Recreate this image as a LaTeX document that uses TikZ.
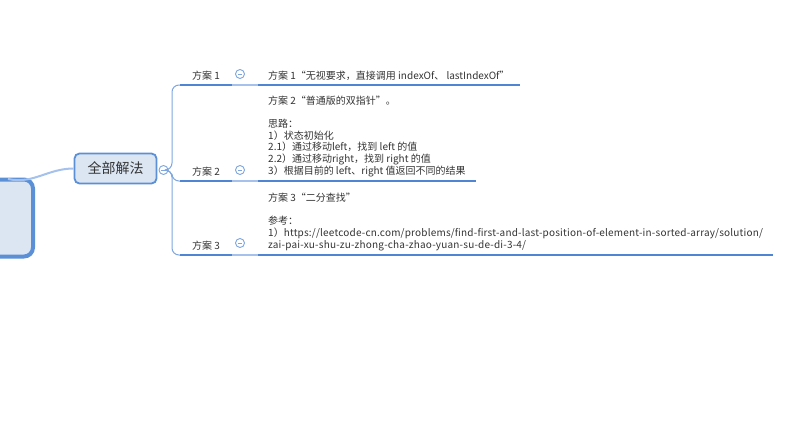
\documentclass[tikz,border=0pt]{standalone}
\usepackage{fontspec}
\setmainfont{Noto Sans CJK SC}
\newfontfamily\urlfont{Noto Sans CJK SC}[LetterSpace=1.9]
\definecolor{lineblue}{HTML}{4F86D4}
\definecolor{boxblue}{HTML}{5B8FD6}
\definecolor{boxfill}{HTML}{DCE6F3}
\definecolor{linkblue}{HTML}{7EA6E0}
\definecolor{rootlink}{HTML}{A4C2EC}
\definecolor{txt}{HTML}{333333}
\tikzset{
  lbl/.style={anchor=south,minimum width=52pt,inner xsep=0pt,inner ysep=4pt,font=\fontsize{10}{11.7}\selectfont,text=txt},
  detail/.style={anchor=south west,inner xsep=10pt,inner ysep=4pt,align=left,font=\fontsize{10}{11.7}\selectfont,text=txt},
  uline/.style={draw=lineblue,line width=2.8pt},
  branch/.style={draw=linkblue,line width=1pt,rounded corners=7pt},
  minus/.style={circle,draw=linkblue,fill=white,line width=0.9pt,minimum size=9pt,inner sep=0pt,
    path picture={\draw[linkblue,line width=0.9pt] ([xshift=-2.3pt]path picture bounding box.center) -- ([xshift=2.3pt]path picture bounding box.center);}}
}
\begin{document}
\begin{tikzpicture}[x=1pt,y=-1pt]
                \useasboundingbox (0,0) rectangle (794,447);
                \node[draw=boxblue,fill=boxfill,line width=4pt,rounded corners=9pt,minimum width=120pt,minimum height=77pt] (R) at (-27,218) {};
                \node[draw=boxblue,fill=boxfill,line width=1.8pt,rounded corners=5pt,minimum width=82pt,minimum height=30pt,text=txt,font=\fontsize{14}{16}\selectfont] (M) at (115.5,168.5) {全部解法};
                \draw[rootlink,line width=2pt] (8,179) to[out=-12,in=180] (M.west);
                \node[minus] (C0) at (163.5,170) {};
                \node[lbl] (S1) at (206,85) {方案 1};
                \node[lbl] (S2) at (206,181) {方案 2};
                \node[lbl] (S3) at (206,255) {方案 3};
                \node[detail] (D1) at (258,85) {方案 1“无视要求，直接调用 indexOf、 lastIndexOf”};
                \node[detail] (D2) at (258,181) {方案 2“普通版的双指针”。\\[11.7pt]
                  思路：\\
                  1）状态初始化\\
                  2.1）通过移动left，找到 left 的值\\
                  2.2）通过移动right，找到 right 的值\\
                  3）根据目前的 left、right 值返回不同的结果};
                \node[detail] (D3) at (258,255) {方案 3“二分查找”\\[11.7pt]
                  参考：\\
                  1）{\urlfont https://leetcode-cn.com/problems/find-first-and-last-position-of-element-in-sorted-array/solution/}\\
                  {\urlfont zai-pai-xu-shu-zu-zhong-cha-zhao-yuan-su-de-di-3-4/}};
                \draw[branch] (C0.east) -- (172,170) |- (S1.south west);
                \draw[branch] (C0.east) -- (172,170) |- (S2.south west);
                \draw[branch] (C0.east) -- (172,170) |- (S3.south west);
                \draw[uline] (S1.south west) -- (S1.south east);
                \draw[uline] (S2.south west) -- (S2.south east);
                \draw[uline] (S3.south west) -- (S3.south east);
                \draw[uline] (D1.south west) -- (D1.south east);
                \draw[uline] (D2.south west) -- (D2.south east);
                \draw[uline] (D3.south west) -- (D3.south east);
                \draw[rootlink,line width=1.2pt] (S1.south east) -- (D1.south west);
                \draw[rootlink,line width=1.2pt] (S2.south east) -- (D2.south west);
                \draw[rootlink,line width=1.2pt] (S3.south east) -- (D3.south west);
                \node[minus] (C1) at (240,74) {};
                \node[minus] (C2) at (240,170) {};
                \node[minus] (C3) at (240,243) {};
            \end{tikzpicture}
\end{document}
